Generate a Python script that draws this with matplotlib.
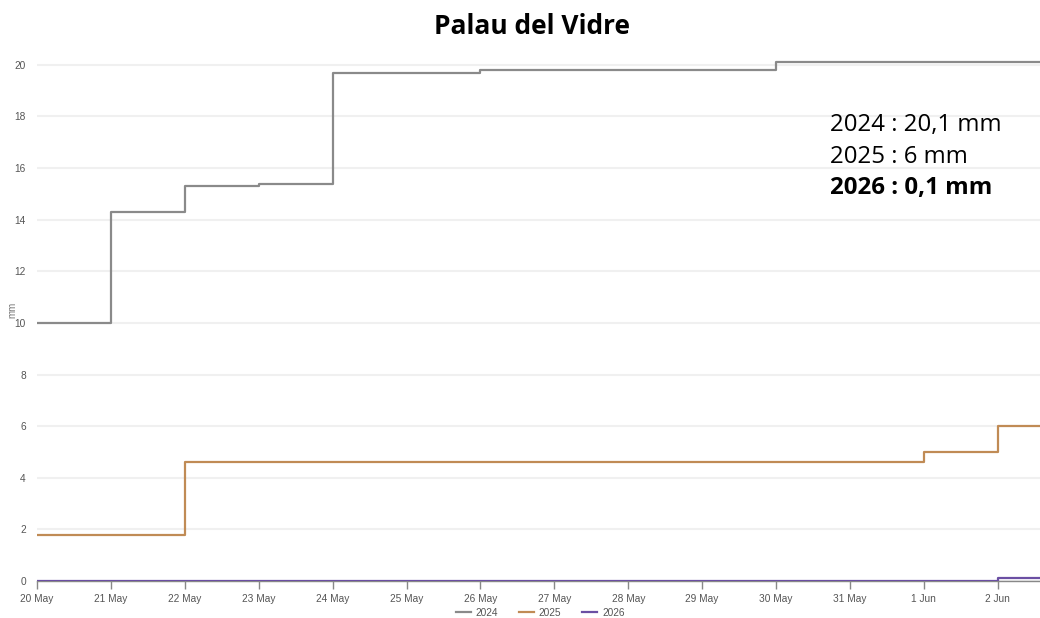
import numpy as np
import pandas as pd
import matplotlib
matplotlib.use("Agg")
import matplotlib.pyplot as plt

# daily cumulative rainfall (mm), 20 May -> 3 Jun
days = pd.date_range("2024-05-20", "2024-06-03", freq="D")
rain_2024 = [10.0, 14.3, 15.3, 15.4, 19.7, 19.7, 19.8, 19.8, 19.8, 19.8, 20.1, 20.1, 20.1, 20.1, 20.1]
rain_2025 = [1.8, 1.8, 4.6, 4.6, 4.6, 4.6, 4.6, 4.6, 4.6, 4.6, 4.6, 4.6, 5.0, 6.0, 6.0]
rain_2026 = [0.0, 0.0, 0.0, 0.0, 0.0, 0.0, 0.0, 0.0, 0.0, 0.0, 0.0, 0.0, 0.0, 0.1, 0.1]
series_names = ["2024", "2025", "2026"]
colors = ["#8a8a8a", "#c08b55", "#6b4fa3"]
totals = ["2024 : 20,1 mm", "2025 : 6 mm", "2026 : 0,1 mm"]

fig = plt.figure(figsize=(10.4, 6.18), dpi=100)
ax = fig.add_axes([37 / 1040, 1 - 581 / 618, 1 - 37 / 1040, (581 - 39) / 618])

for vals, name, col in zip([rain_2024, rain_2025, rain_2026], series_names, colors):
    ax.step(days, vals, where="post", color=col, lw=1.6, label=name, zorder=3)

ax.set_xlim(days[0], days[13] + pd.Timedelta(hours=13.7))
ax.set_ylim(0, 21)
ax.set_yticks(np.arange(0, 21, 2))
ax.yaxis.grid(True, color="#f0f0f0", lw=1.5)
ax.set_axisbelow(True)

ticks = days[:14]
ax.set_xticks(ticks)
ax.set_xticklabels([d.strftime("%-d %b") for d in ticks])
ax.tick_params(axis="x", direction="out", length=6, width=1, color="#888888",
               labelsize=7.3, labelcolor="#555555", pad=3)
ax.tick_params(axis="y", length=0, labelsize=7.3, labelcolor="#555555", pad=8)
for lbl in ax.get_xticklabels() + ax.get_yticklabels():
    lbl.set_family("Liberation Sans")

for side in ["top", "right", "left"]:
    ax.spines[side].set_visible(False)
ax.spines["bottom"].set_color("#888888")
ax.spines["bottom"].set_linewidth(1)

ax.set_ylabel("mm", fontsize=7, color="#777777", family="Liberation Sans", labelpad=-2)

fig.text(532 / 1040, 1 - 26 / 618, "Palau del Vidre", ha="center", va="center",
         fontsize=19, fontweight="bold", family="Open Sans")

ypos = [125, 157, 188]
for txt, y, w in zip(totals, ypos, ["normal", "normal", "bold"]):
    fig.text(830 / 1040, 1 - y / 618, txt, ha="left", va="center",
             fontsize=17.3, fontweight=w, family="Open Sans")

leg = fig.legend(loc="center", bbox_to_anchor=(540 / 1040, 1 - 613 / 618), ncol=3,
                 frameon=False, handlelength=1.5, handletextpad=0.5,
                 columnspacing=2, prop={"family": "Liberation Sans", "size": 7.3})
for t in leg.get_texts():
    t.set_color("#555555")

fig.savefig("out.png", dpi=100)
